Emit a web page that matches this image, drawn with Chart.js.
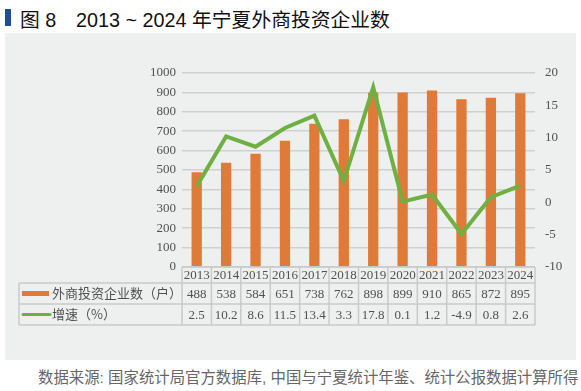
<!DOCTYPE html>
<html>
<head>
<meta charset="utf-8">
<script src="https://cdn.jsdelivr.net/npm/chart.js@4.4.1/dist/chart.umd.min.js"></script>
<style>
  body { margin: 0; width: 581px; height: 391px; background: #fff; position: relative; overflow: hidden;
         font-family: "Liberation Sans", "Noto Sans CJK SC", sans-serif; }
  .title { position: absolute; left: 5px; top: 4px; height: 24px; font-size: 19.8px; color: #111; white-space: nowrap; }
  .title .mark { position: absolute; left: 0; top: 5px; width: 6px; height: 17px; background: #1f4e96; }
  .title .num { position: absolute; left: 15px; top: 0; }
  .title .txt { position: absolute; left: 71px; top: 0; }
  .panel { position: absolute; left: 5px; top: 33px; width: 571px; height: 327px; background: #eef0ef; }
  .source { position: absolute; left: 38px; top: 365px; font-size: 15.4px; color: #666; white-space: nowrap; }
</style>
</head>
<body>
<div class="title"><div class="mark"></div><span class="num">图 8</span><span class="txt">2013 ~ 2024 年宁夏外商投资企业数</span></div>
<div class="panel"><canvas id="chart" width="571" height="327"></canvas></div>
<div class="source">数据来源: 国家统计局官方数据库, 中国与宁夏统计年鉴、统计公报数据计算所得</div>
<script>
// Data
const years = ['2013','2014','2015','2016','2017','2018','2019','2020','2021','2022','2023','2024'];
const firms = [488, 538, 584, 651, 738, 762, 898, 899, 910, 865, 872, 895];
const growth = [2.5, 10.2, 8.6, 11.5, 13.4, 3.3, 17.8, 0.1, 1.2, -4.9, 0.8, 2.6];
const growthText = ['2.5','10.2','8.6','11.5','13.4','3.3','17.8','0.1','1.2','-4.9','0.8','2.6'];
const seriesNames = ['外商投资企业数（户）', '增速（%）'];

const ORANGE = '#e07a38';
const GREEN = '#6fb042';
const GRID = '#d0d0d0';
const TEXT = '#505050';
const SERIF = '"Liberation Serif", "Noto Sans CJK SC", serif';

// draws the data table under the plot
const dataTable = {
  id: 'dataTable',
  afterDraw(chart) {
    const { ctx, chartArea } = chart;
    const x = chart.scales.x;
    const left = chartArea.left, right = chartArea.right;
    const colW = (right - left) / years.length;
    const tableLeft = 14;
    const y0 = chartArea.bottom, y1 = y0 + 16, y2 = y1 + 21, y3 = y2 + 21;

    ctx.save();
    ctx.strokeStyle = '#c9c9c9';
    ctx.lineWidth = 1.5;
    ctx.beginPath();
    // horizontal
    ctx.moveTo(left, y0); ctx.lineTo(right, y0);
    [y1, y2, y3].forEach(y => { ctx.moveTo(tableLeft, y); ctx.lineTo(right, y); });
    // vertical
    for (let i = 0; i <= years.length; i++) {
      const vx = left + i * colW;
      ctx.moveTo(vx, y0); ctx.lineTo(vx, y3);
    }
    ctx.moveTo(tableLeft, y1); ctx.lineTo(tableLeft, y3);
    ctx.stroke();

    ctx.fillStyle = TEXT;
    ctx.font = '13px ' + SERIF;
    ctx.textAlign = 'center';
    ctx.textBaseline = 'middle';
    years.forEach((yr, i) => {
      const cx = x.getPixelForValue(i);
      ctx.fillText(yr, cx, (y0 + y1) / 2 + 1);
      ctx.fillText(String(firms[i]), cx, (y1 + y2) / 2 + 1);
      ctx.fillText(growthText[i], cx, (y2 + y3) / 2 + 1);
    });

    // legend keys
    ctx.fillStyle = ORANGE;
    ctx.fillRect(tableLeft + 3, (y1 + y2) / 2 - 2.5, 27, 5);
    ctx.strokeStyle = GREEN;
    ctx.lineWidth = 3;
    ctx.lineCap = 'round';
    ctx.beginPath();
    ctx.moveTo(tableLeft + 4, (y2 + y3) / 2);
    ctx.lineTo(tableLeft + 31, (y2 + y3) / 2);
    ctx.stroke();

    ctx.fillStyle = TEXT;
    ctx.textAlign = 'left';
    ctx.font = '13px "Noto Sans CJK SC", serif';
    ctx.fillText(seriesNames[0], tableLeft + 33, (y1 + y2) / 2);
    ctx.fillText(seriesNames[1], tableLeft + 33, (y2 + y3) / 2);
    ctx.restore();
  }
};

new Chart(document.getElementById('chart'), {
  type: 'bar',
  data: {
    labels: years,
    datasets: [
      {
        type: 'line',
        label: seriesNames[1],
        data: growth,
        yAxisID: 'y1',
        borderColor: GREEN,
        borderWidth: 4,
        pointRadius: 0,
        tension: 0,
        order: 0
      },
      {
        label: seriesNames[0],
        data: firms,
        yAxisID: 'y',
        backgroundColor: ORANGE,
        barPercentage: 0.35,
        categoryPercentage: 1,
        order: 1
      }
    ]
  },
  options: {
    responsive: false,
    animation: false,
    layout: { padding: { left: 132, right: 6, top: 40, bottom: 93 } },
    plugins: { legend: { display: false }, tooltip: { enabled: false } },
    scales: {
      x: { display: false, offset: true },
      y: {
        position: 'left',
        min: 0, max: 1000,
        ticks: { stepSize: 100, color: TEXT, font: { family: SERIF, size: 13 }, padding: 6,
                 callback: v => String(v) },
        grid: { color: GRID, lineWidth: 1.5, drawTicks: false },
        border: { display: false },
        afterFit(s) { s.width = 45; }
      },
      y1: {
        position: 'right',
        min: -10, max: 20,
        ticks: { stepSize: 5, color: TEXT, font: { family: SERIF, size: 13 }, padding: 10 },
        grid: { display: false, drawTicks: false },
        border: { display: false },
        afterFit(s) { s.width = 35; }
      }
    }
  },
  plugins: [dataTable]
});
</script>
</body>
</html>
